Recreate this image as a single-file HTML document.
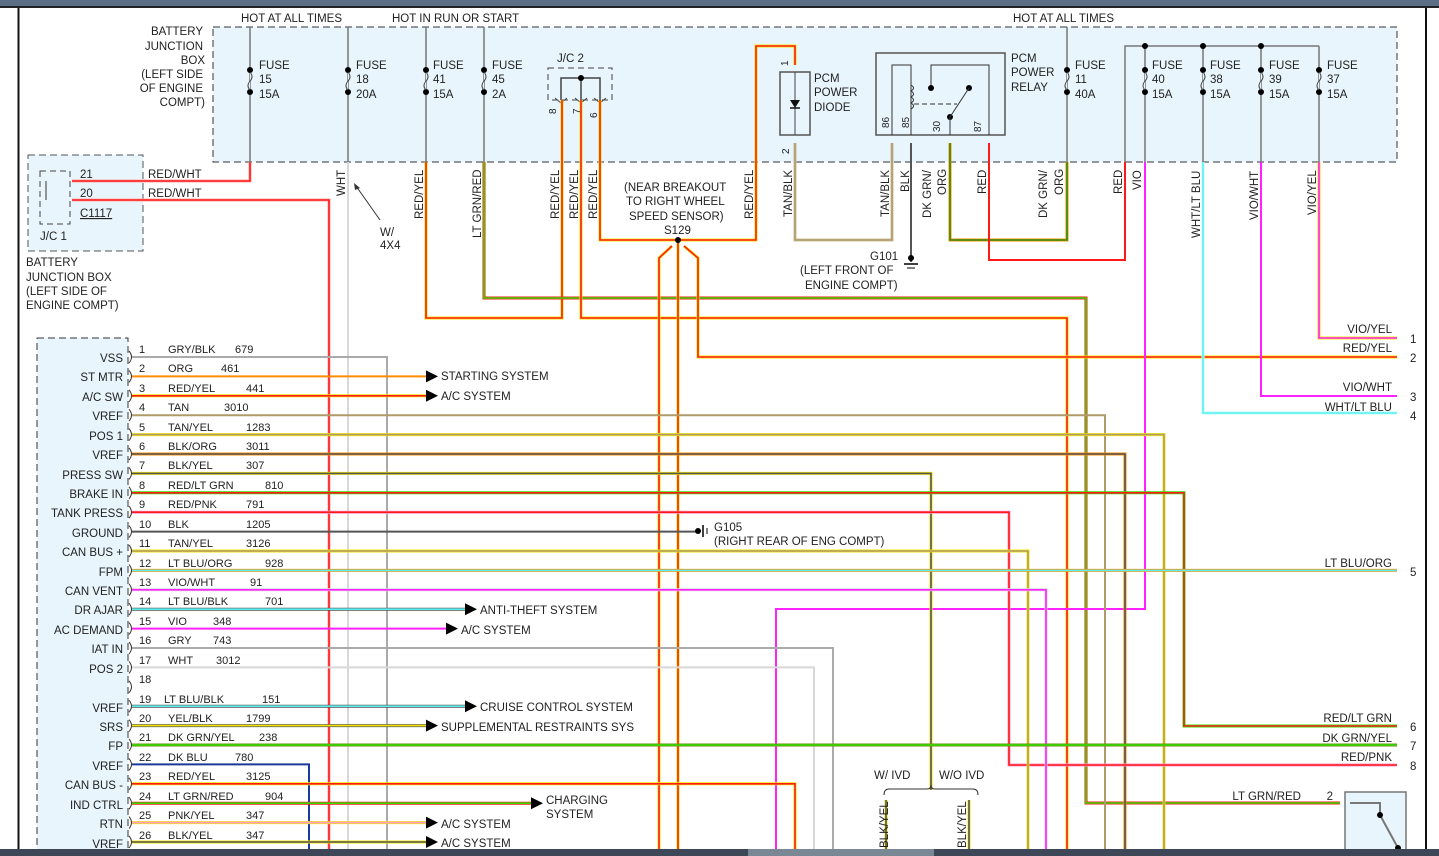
<!DOCTYPE html>
<html><head><meta charset="utf-8"><style>
html,body{margin:0;padding:0;background:#fff;}
svg{display:block;font-family:"Liberation Sans",sans-serif;font-size:11.5px;fill:#222;}
</style></head><body>
<svg id="s" width="1439" height="856" viewBox="0 0 1439 856" xmlns="http://www.w3.org/2000/svg">
<rect x="0" y="0" width="1439" height="6" fill="#5b6f86"/>
<rect x="0" y="6" width="1439" height="2" fill="#222"/>
<line x1="18.5" y1="8" x2="18.5" y2="850" stroke="#111" stroke-width="2"/>
<line x1="1426" y1="8" x2="1426" y2="850" stroke="#111" stroke-width="2"/>
<rect x="213" y="27" width="1184" height="135" fill="#e8f5fd" stroke="#333" stroke-dasharray="7,4"/>
<rect x="28" y="155" width="115" height="96" fill="#e8f5fd" stroke="#555" stroke-dasharray="7,4"/>
<rect x="40" y="171" width="30" height="53" fill="none" stroke="#444" stroke-dasharray="6,4"/>
<rect x="37" y="338" width="91" height="520" fill="#e8f5fd" stroke="#333" stroke-dasharray="7,4"/>
<rect x="548" y="68" width="64" height="32" fill="none" stroke="#444" stroke-dasharray="6,4"/>
<rect x="780" y="72" width="30" height="63" fill="none" stroke="#555" stroke-width="1.5"/>
<rect x="876" y="53" width="129" height="82" fill="#e8f5fd" stroke="#555" stroke-width="1.5"/>
<rect x="1345" y="792" width="61" height="64" fill="#e8f5fd" stroke="#777" stroke-width="1.5"/>
<g id="w"></g>
<text x="241" y="22">HOT AT ALL TIMES</text>
<text x="392" y="22">HOT IN RUN OR START</text>
<text x="1013" y="22">HOT AT ALL TIMES</text>
<g text-anchor="end">
<text x="203" y="35">BATTERY</text><text x="203" y="50">JUNCTION</text><text x="205" y="64">BOX</text>
<text x="203" y="78">(LEFT SIDE</text><text x="203" y="92">OF ENGINE</text><text x="205" y="106">COMPT)</text>
</g>
<g>
<text x="259" y="69">FUSE</text><text x="259" y="83">15</text><text x="259" y="98">15A</text>
<text x="356" y="69">FUSE</text><text x="356" y="83">18</text><text x="356" y="98">20A</text>
<text x="433" y="69">FUSE</text><text x="433" y="83">41</text><text x="433" y="98">15A</text>
<text x="492" y="69">FUSE</text><text x="492" y="83">45</text><text x="492" y="98">2A</text>
<text x="1075" y="69">FUSE</text><text x="1075" y="83">11</text><text x="1075" y="98">40A</text>
<text x="1152" y="69">FUSE</text><text x="1152" y="83">40</text><text x="1152" y="98">15A</text>
<text x="1210" y="69">FUSE</text><text x="1210" y="83">38</text><text x="1210" y="98">15A</text>
<text x="1269" y="69">FUSE</text><text x="1269" y="83">39</text><text x="1269" y="98">15A</text>
<text x="1327" y="69">FUSE</text><text x="1327" y="83">37</text><text x="1327" y="98">15A</text>
<text x="557" y="62">J/C 2</text>
<text x="814" y="82">PCM</text><text x="814" y="96">POWER</text><text x="814" y="111">DIODE</text>
<text x="1011" y="62">PCM</text><text x="1011" y="76">POWER</text><text x="1011" y="91">RELAY</text>
<text x="80" y="178">21</text><text x="80" y="197">20</text><text x="80" y="217" text-decoration="underline">C1117</text>
<text x="40" y="240">J/C 1</text>
<text x="148" y="178">RED/WHT</text><text x="148" y="197">RED/WHT</text>
<text x="26" y="266">BATTERY</text><text x="26" y="281">JUNCTION BOX</text><text x="26" y="295">(LEFT SIDE OF</text><text x="26" y="309">ENGINE COMPT)</text>
<text x="380" y="236">W/</text><text x="380" y="249">4X4</text>
<text x="870" y="260">G101</text>
<text x="800" y="274">(LEFT FRONT OF</text><text x="805" y="289">ENGINE COMPT)</text>
<text x="624" y="191">(NEAR BREAKOUT</text><text x="626" y="205">TO RIGHT WHEEL</text><text x="629" y="220">SPEED SENSOR)</text><text x="664" y="234">S129</text>
<text x="714" y="531">G105</text><text x="714" y="545">(RIGHT REAR OF ENG COMPT)</text>
<text x="874" y="779">W/ IVD</text><text x="939" y="779">W/O IVD</text>
</g>
<g font-size="11.5">
<text transform="translate(345,196) rotate(-90)">WHT</text>
<text transform="translate(423,219) rotate(-90)">RED/YEL</text>
<text transform="translate(481,238) rotate(-90)">LT GRN/RED</text>
<text transform="translate(559,219) rotate(-90)">RED/YEL</text>
<text transform="translate(578,219) rotate(-90)">RED/YEL</text>
<text transform="translate(597,219) rotate(-90)">RED/YEL</text>
<text transform="translate(753,219) rotate(-90)">RED/YEL</text>
<text transform="translate(792,217) rotate(-90)">TAN/BLK</text>
<text transform="translate(889,217) rotate(-90)">TAN/BLK</text>
<text transform="translate(909,192) rotate(-90)">BLK</text>
<text transform="translate(931,218) rotate(-90)">DK GRN/</text>
<text transform="translate(946,195) rotate(-90)">ORG</text>
<text transform="translate(986,194) rotate(-90)">RED</text>
<text transform="translate(1047,218) rotate(-90)">DK GRN/</text>
<text transform="translate(1063,195) rotate(-90)">ORG</text>
<text transform="translate(1122,194) rotate(-90)">RED</text>
<text transform="translate(1141,190) rotate(-90)">VIO</text>
<text transform="translate(1200,238) rotate(-90)">WHT/LT BLU</text>
<text transform="translate(1258,220) rotate(-90)">VIO/WHT</text>
<text transform="translate(1316,215) rotate(-90)">VIO/YEL</text>
<text transform="translate(888,848) rotate(-90)">BLK/YEL</text>
<text transform="translate(966,848) rotate(-90)">BLK/YEL</text>
<text font-size="10" transform="translate(556,114) rotate(-90)">8</text>
<text font-size="10" transform="translate(580,114) rotate(-90)">7</text>
<text font-size="10" transform="translate(597,118) rotate(-90)">6</text>
<text font-size="10" transform="translate(788,66) rotate(-90)">1</text>
<text font-size="10" transform="translate(789,154) rotate(-90)">2</text>
<text font-size="10" transform="translate(889,128) rotate(-90)">86</text>
<text font-size="10" transform="translate(909,128) rotate(-90)">85</text>
<text font-size="10" transform="translate(940,132) rotate(-90)">30</text>
<text font-size="10" transform="translate(981,132) rotate(-90)">87</text>
</g>
<g text-anchor="end">
<text x="123" y="362">VSS</text><text x="123" y="381">ST MTR</text><text x="123" y="401">A/C SW</text><text x="123" y="420">VREF</text>
<text x="123" y="440">POS 1</text><text x="123" y="459">VREF</text><text x="123" y="479">PRESS SW</text><text x="123" y="498">BRAKE IN</text>
<text x="123" y="517">TANK PRESS</text><text x="123" y="537">GROUND</text><text x="123" y="556">CAN BUS +</text><text x="123" y="576">FPM</text>
<text x="123" y="595">CAN VENT</text><text x="123" y="614">DR AJAR</text><text x="123" y="634">AC DEMAND</text><text x="123" y="653">IAT IN</text>
<text x="123" y="673">POS 2</text><text x="123" y="712">VREF</text><text x="123" y="731">SRS</text><text x="123" y="750">FP</text>
<text x="123" y="770">VREF</text><text x="123" y="789">CAN BUS -</text><text x="123" y="809">IND CTRL</text><text x="123" y="828">RTN</text><text x="123" y="848">VREF</text>
</g>
<g font-size="11">
<text x="139" y="353">1</text><text x="168" y="353">GRY/BLK</text><text x="235" y="353">679</text>
<text x="139" y="372">2</text><text x="168" y="372">ORG</text><text x="221" y="372">461</text>
<text x="139" y="392">3</text><text x="168" y="392">RED/YEL</text><text x="246" y="392">441</text>
<text x="139" y="411">4</text><text x="168" y="411">TAN</text><text x="224" y="411">3010</text>
<text x="139" y="431">5</text><text x="168" y="431">TAN/YEL</text><text x="246" y="431">1283</text>
<text x="139" y="450">6</text><text x="168" y="450">BLK/ORG</text><text x="246" y="450">3011</text>
<text x="139" y="469">7</text><text x="168" y="469">BLK/YEL</text><text x="246" y="469">307</text>
<text x="139" y="489">8</text><text x="168" y="489">RED/LT GRN</text><text x="265" y="489">810</text>
<text x="139" y="508">9</text><text x="168" y="508">RED/PNK</text><text x="246" y="508">791</text>
<text x="139" y="528">10</text><text x="168" y="528">BLK</text><text x="246" y="528">1205</text>
<text x="139" y="547">11</text><text x="168" y="547">TAN/YEL</text><text x="246" y="547">3126</text>
<text x="139" y="567">12</text><text x="168" y="567">LT BLU/ORG</text><text x="265" y="567">928</text>
<text x="139" y="586">13</text><text x="168" y="586">VIO/WHT</text><text x="250" y="586">91</text>
<text x="139" y="605">14</text><text x="168" y="605">LT BLU/BLK</text><text x="265" y="605">701</text>
<text x="139" y="625">15</text><text x="168" y="625">VIO</text><text x="213" y="625">348</text>
<text x="139" y="644">16</text><text x="168" y="644">GRY</text><text x="213" y="644">743</text>
<text x="139" y="664">17</text><text x="168" y="664">WHT</text><text x="216" y="664">3012</text>
<text x="139" y="683">18</text>
<text x="139" y="703">19</text><text x="164" y="703">LT BLU/BLK</text><text x="262" y="703">151</text>
<text x="139" y="722">20</text><text x="168" y="722">YEL/BLK</text><text x="246" y="722">1799</text>
<text x="139" y="741">21</text><text x="168" y="741">DK GRN/YEL</text><text x="259" y="741">238</text>
<text x="139" y="761">22</text><text x="168" y="761">DK BLU</text><text x="235" y="761">780</text>
<text x="139" y="780">23</text><text x="168" y="780">RED/YEL</text><text x="246" y="780">3125</text>
<text x="139" y="800">24</text><text x="168" y="800">LT GRN/RED</text><text x="265" y="800">904</text>
<text x="139" y="819">25</text><text x="168" y="819">PNK/YEL</text><text x="246" y="819">347</text>
<text x="139" y="839">26</text><text x="168" y="839">BLK/YEL</text><text x="246" y="839">347</text>
</g>
<g>
<text x="441" y="380">STARTING SYSTEM</text><text x="441" y="400">A/C SYSTEM</text>
<text x="480" y="614">ANTI-THEFT SYSTEM</text><text x="461" y="634">A/C SYSTEM</text>
<text x="480" y="711">CRUISE CONTROL SYSTEM</text><text x="441" y="731">SUPPLEMENTAL RESTRAINTS SYS</text>
<text x="546" y="804">CHARGING</text><text x="546" y="818">SYSTEM</text>
<text x="441" y="828">A/C SYSTEM</text><text x="441" y="847">A/C SYSTEM</text>
</g>
<g text-anchor="end">
<text x="1392" y="333">VIO/YEL</text><text x="1392" y="352">RED/YEL</text><text x="1392" y="391">VIO/WHT</text><text x="1392" y="411">WHT/LT BLU</text>
<text x="1392" y="567">LT BLU/ORG</text><text x="1392" y="722">RED/LT GRN</text><text x="1392" y="742">DK GRN/YEL</text><text x="1392" y="761">RED/PNK</text>
<text x="1301" y="800">LT GRN/RED</text><text x="1333" y="800">2</text>
</g>
<g><text x="1410" y="343">1</text><text x="1410" y="362">2</text><text x="1410" y="401">3</text><text x="1410" y="420">4</text>
<text x="1410" y="576">5</text><text x="1410" y="731">6</text><text x="1410" y="750">7</text><text x="1410" y="770">8</text></g>
<rect x="0" y="849" width="1439" height="7" fill="#3d4757"/>
<rect x="748" y="849" width="186" height="7" fill="#7a8794"/>
</svg>
<script>
var g=document.getElementById('w'),NS='http://www.w3.org/2000/svg';
function el(t,a){var e=document.createElementNS(NS,t);for(var k in a)e.setAttribute(k,a[k]);g.appendChild(e);return e;}
function W(p,c1,c2){if(c2)el('polyline',{points:p,fill:'none',stroke:c2,'stroke-width':3});el('polyline',{points:p,fill:'none',stroke:c1,'stroke-width':c2?1.6:2});}
var R='#ff1a1a',Y='#f2e600',O='#ff8c00',G='#33dd00',DG='#2a8f10',T='#b09a6a',K='#555',WH='#d8d8d8',GY='#aaa',V='#ff22ff',LB='#5af0f0',P='#ff99cc',DB='#1a3a99';
function A(x,y){el('polygon',{points:(x-12)+','+(y-6)+' '+x+','+y+' '+(x-12)+','+(y+6),fill:'#000'});}
function D(x,y){el('circle',{cx:x,cy:y,r:3,fill:'#000'});}
[250,348,426,484,1067].forEach(function(x){el('line',{x1:x,y1:27,x2:x,y2:162,stroke:'#777','stroke-width':1.5});});
[1145,1203,1261,1319].forEach(function(x){el('line',{x1:x,y1:46,x2:x,y2:162,stroke:'#777','stroke-width':1.5});});
el('polyline',{points:'1125,162 1125,46 1319,46',fill:'none',stroke:'#777','stroke-width':1.5});
[1145,1203,1261].forEach(function(x){D(x,46)});
[250,348,426,484,1067,1145,1203,1261,1319].forEach(function(x){D(x,70);D(x,92);el('path',{d:'M'+x+' 72 q4 5 0 9 q-4 5 0 9',fill:'#e8f5fd',stroke:'#444'});});
el('polyline',{points:'561,100 561,78 600,78 600,100 ',fill:'none',stroke:'#444','stroke-width':1.5});el('line',{x1:581,y1:78,x2:581,y2:100,stroke:'#444','stroke-width':1.5});D(581,78);
[561,581,600].forEach(function(x){el('path',{d:'M'+(x-6)+' 98 l6 5 l6 -5',fill:'none',stroke:'#444'});});
el('line',{x1:795,y1:72,x2:795,y2:135,stroke:'#444'});el('polygon',{points:'790,100 800,100 795,108',fill:'#111'});el('line',{x1:790,y1:108,x2:800,y2:108,stroke:'#111','stroke-width':1.5});
el('polyline',{points:'892,135 892,65 911,65 911,135',fill:'none',stroke:'#333'});el('path',{d:'M911 85 q5 3 0 6 q5 3 0 6 q5 3 0 6 q5 3 0 6',fill:'none',stroke:'#333'});
el('polyline',{points:'931,88 931,65 989,65 989,135',fill:'none',stroke:'#333'});D(931,88);D(969,88);D(950,117);el('line',{x1:950,y1:117,x2:969,y2:88,stroke:'#333'});el('line',{x1:950,y1:117,x2:950,y2:135,stroke:'#333'});
el('line',{x1:914,y1:104,x2:957,y2:104,stroke:'#333','stroke-dasharray':'5,3'});
W('250,162 250,181 72,181',R,'#ffaaaa');W('72,200 329,200 329,850',R,'#ffaaaa');
el('polyline',{points:'46,181 46,200',stroke:'#333',fill:'none'});
W('348,162 348,850',WH);
el('line',{x1:380,y1:220,x2:356,y2:186,stroke:'#333'});el('polygon',{points:'354,183 360,188 355,190',fill:'#333'});
W('426,162 426,318 562,318 562,100',R,Y);
W('484,162 484,298 1086,298 1086,803 1340,803',G,R);
W('581,100 581,318 1067,318 1067,850',R,Y);
W('600,100 600,240 756,240 756,46 795,46 795,65',R,Y);
W('659,850 659,258 672,246',R,Y);W('678,240 678,850',R,Y);W('684,246 698,258 698,357 1397,357',R,Y);D(678,240);
W('795,143 795,240 892,240 892,143',T,'#ccc09a');
W('911,143 911,262',K);el('circle',{cx:911,cy:258,r:3,fill:'#000'});el('line',{x1:904,y1:264,x2:918,y2:264,stroke:'#000','stroke-width':1.5});el('line',{x1:907,y1:268,x2:915,y2:268,stroke:'#000'});
W('950,143 950,240 1067,240 1067,162',DG,O);
W('989,143 989,260 1125,260 1125,162',R);
W('1145,162 1145,609 776,609 776,850',V);
W('1203,162 1203,413 1397,413',LB,'#bff');
W('1261,162 1261,396 1397,396',V);
W('1319,162 1319,338 1397,338',V,Y);
function ry(i){return 357+(i-1)*19.4;}
var rows=[[1,'387',GY,0,1],[2,'438a',O],[3,'438a',R,Y],[4,'1105',T,0,1],[5,'1164',T,Y,1],[6,'1125',K,O,1],[7,'931',K,Y,790],[8,'1184',R,G,726],[9,'1009',R,P,765],[10,'698',K],[11,'1028',T,Y,1],[12,'1397',LB,O],[13,'1046',V,WH,1],[14,'477a',LB,K],[15,'458a',V],[16,'833',GY,0,1],[17,'814',WH,0,1],[19,'477a',LB,K],[20,'438a',Y,K],[21,'1397',G,'#6a8f10'],[22,'309',DB,0,1],[23,'795',R,Y,1],[24,'543a',G,R],[25,'438a',P,Y],[26,'438a',K,Y]];
rows.forEach(function(r){var y=ry(r[0]),x=parseInt(r[1]),arr=r[1].indexOf('a')>0;var p='132,'+y+' '+(arr?x-10:x)+','+y;
 if(r[4]===1)p+=' '+x+',850';else if(r[4]){p+=' '+x+','+r[4];if(r[0]==8||r[0]==9)p+=' 1397,'+r[4];}
 W(p,r[2],r[3]||null);if(arr)A(x,y);});
for(var i=1;i<=26;i++){el('path',{d:'M129 '+(ry(i)-6)+' q5 6 0 12',fill:'none',stroke:'#333'});}
D(698,531);el('line',{x1:703,y1:525,x2:703,y2:537,stroke:'#000','stroke-width':1.5});el('line',{x1:707,y1:528,x2:707,y2:534,stroke:'#000'});
el('path',{d:'M884 795 q0 -6 5 -6 h38 q4 0 4 -4 q0 4 4 4 h38 q5 0 5 6',fill:'none',stroke:'#333'});
W('886,800 886,850',K,Y);W('969,800 969,850',K,Y);
el('polyline',{points:'1350,803 1380,803 1380,815 1398,848',fill:'none',stroke:'#777','stroke-width':2});D(1380,815);D(1398,848);
</script>
</body></html>
